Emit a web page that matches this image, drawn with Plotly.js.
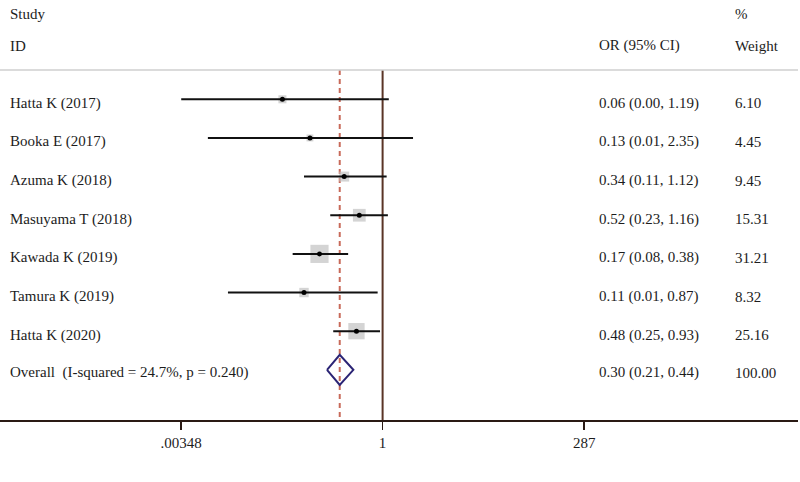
<!DOCTYPE html>
<html>
<head>
<meta charset="utf-8">
<script src="https://cdn.plot.ly/plotly-3.0.1.min.js"></script>
<style>
  html, body { margin: 0; padding: 0; background: #fff; }
  #chart { width: 800px; height: 482px; }
</style>
</head>
<body>
<div id="chart"></div>
<script>
const studies = [
  'Hatta K (2017)',
  'Booka E (2017)',
  'Azuma K (2018)',
  'Masuyama T (2018)',
  'Kawada K (2019)',
  'Tamura K (2019)',
  'Hatta K (2020)',
];
const oddsRatio = [0.06, 0.13, 0.34, 0.52, 0.17, 0.11, 0.48];
const ciLow = [0.0035, 0.0074, 0.11, 0.23, 0.08, 0.013, 0.25];
const ciHigh = [1.19, 2.35, 1.12, 1.16, 0.38, 0.87, 0.93];
const ciText = [
  '0.06 (0.00, 1.19)',
  '0.13 (0.01, 2.35)',
  '0.34 (0.11, 1.12)',
  '0.52 (0.23, 1.16)',
  '0.17 (0.08, 0.38)',
  '0.11 (0.01, 0.87)',
  '0.48 (0.25, 0.93)',
];
const weights = [6.10, 4.45, 9.45, 15.31, 31.21, 8.32, 25.16];

const overallLabel = 'Overall  (I-squared = 24.7%, p = 0.240)';
const overallOR = 0.30;
const overallLow = 0.21;
const overallHigh = 0.44;
const overallText = '0.30 (0.21, 0.44)';
const overallWeight = '100.00';

const tickValues = [0.00348, 1, 287];
const tickLabels = ['.00348', '1', '287'];

const FONT = 'Liberation Serif, Times New Roman, serif';
const TEXT_COLOR = '#1c1c1c';
const PLOT_WIDTH = 798;
const overallRow = studies.length;

// CI whiskers as one trace, segments split by nulls
const ciX = [];
const ciY = [];
studies.forEach((s, i) => {
  ciX.push(ciLow[i], ciHigh[i], null);
  ciY.push(i, i, null);
});

const rows = studies.map((s, i) => i);

const plotData = [
  {
    x: oddsRatio,
    y: rows,
    mode: 'markers',
    marker: {
      symbol: 'square',
      color: '#c2c2c2',
      size: weights.map(w => 3.25 * Math.sqrt(w)),
      line: { width: 0 },
    },
    hoverinfo: 'skip',
  },
  {
    x: ciX,
    y: ciY,
    mode: 'lines',
    line: { color: '#111', width: 2 },
    hoverinfo: 'skip',
  },
  {
    x: oddsRatio,
    y: rows,
    mode: 'markers',
    marker: { color: '#000', size: 5 },
    hoverinfo: 'skip',
  },
  {
    // overall diamond
    x: [overallLow, overallOR, overallHigh, overallOR, overallLow],
    y: [overallRow, overallRow - 0.39, overallRow, overallRow + 0.39, overallRow],
    mode: 'lines',
    line: { color: '#2b2475', width: 2 },
    hoverinfo: 'skip',
  },
];

const annotations = [];
function addText(text, px, y, yshift) {
  annotations.push({
    text: text,
    xref: 'paper',
    yref: 'y',
    x: px / PLOT_WIDTH,
    y: y,
    xanchor: 'left',
    yanchor: 'middle',
    yshift: yshift,
    showarrow: false,
    font: { family: FONT, size: 15, color: TEXT_COLOR },
  });
}

// headers
addText('Study', 8, -2.21, 0);
addText('ID', 8, -1.38, 0);
addText('OR (95% CI)', 597, -1.38, 0);
addText('%', 733, -2.21, 0);
addText('Weight', 733, -1.38, 0);

studies.forEach((s, i) => {
  addText(s, 8, i, -4);
  addText(ciText[i], 597, i, -4);
  addText(weights[i].toFixed(2), 733, i, -4);
});
addText(overallLabel, 8, overallRow, -3);
addText(overallText, 597, overallRow, -3);
addText(overallWeight, 733, overallRow, -3);

const headerLine = -0.758;

const plotLayout = {
  width: 800,
  height: 482,
  margin: { l: 0, r: 2, t: 0, b: 62 },
  paper_bgcolor: '#fff',
  plot_bgcolor: '#fff',
  showlegend: false,
  xaxis: {
    type: 'log',
    range: [-4.666, 5.066],
    tickvals: tickValues,
    ticktext: tickLabels,
    ticks: 'outside',
    ticklen: 8,
    tickwidth: 1.5,
    tickcolor: '#2a1a14',
    showline: true,
    linecolor: '#2a1a14',
    linewidth: 2,
    showgrid: false,
    zeroline: false,
    fixedrange: true,
    tickfont: { family: FONT, size: 15, color: TEXT_COLOR },
  },
  yaxis: {
    range: [8.298, -2.569],
    visible: false,
    showgrid: false,
    zeroline: false,
    fixedrange: true,
  },
  shapes: [
    {
      type: 'line', xref: 'paper', yref: 'y',
      x0: 0, x1: 1, y0: headerLine, y1: headerLine,
      line: { color: '#cfcfcf', width: 1.5 },
    },
    {
      type: 'line', xref: 'x', yref: 'y',
      x0: 1, x1: 1, y0: headerLine, y1: 8.298,
      line: { color: '#5a3426', width: 2 },
      layer: 'below',
    },
    {
      type: 'line', xref: 'x', yref: 'y',
      x0: overallOR, x1: overallOR, y0: headerLine, y1: 8.298,
      line: { color: '#c86a5a', width: 2, dash: '5px,4px' },
      layer: 'below',
    },
  ],
  annotations: annotations,
};

Plotly.newPlot('chart', plotData, plotLayout, { displayModeBar: false, staticPlot: true });
</script>
</body>
</html>
